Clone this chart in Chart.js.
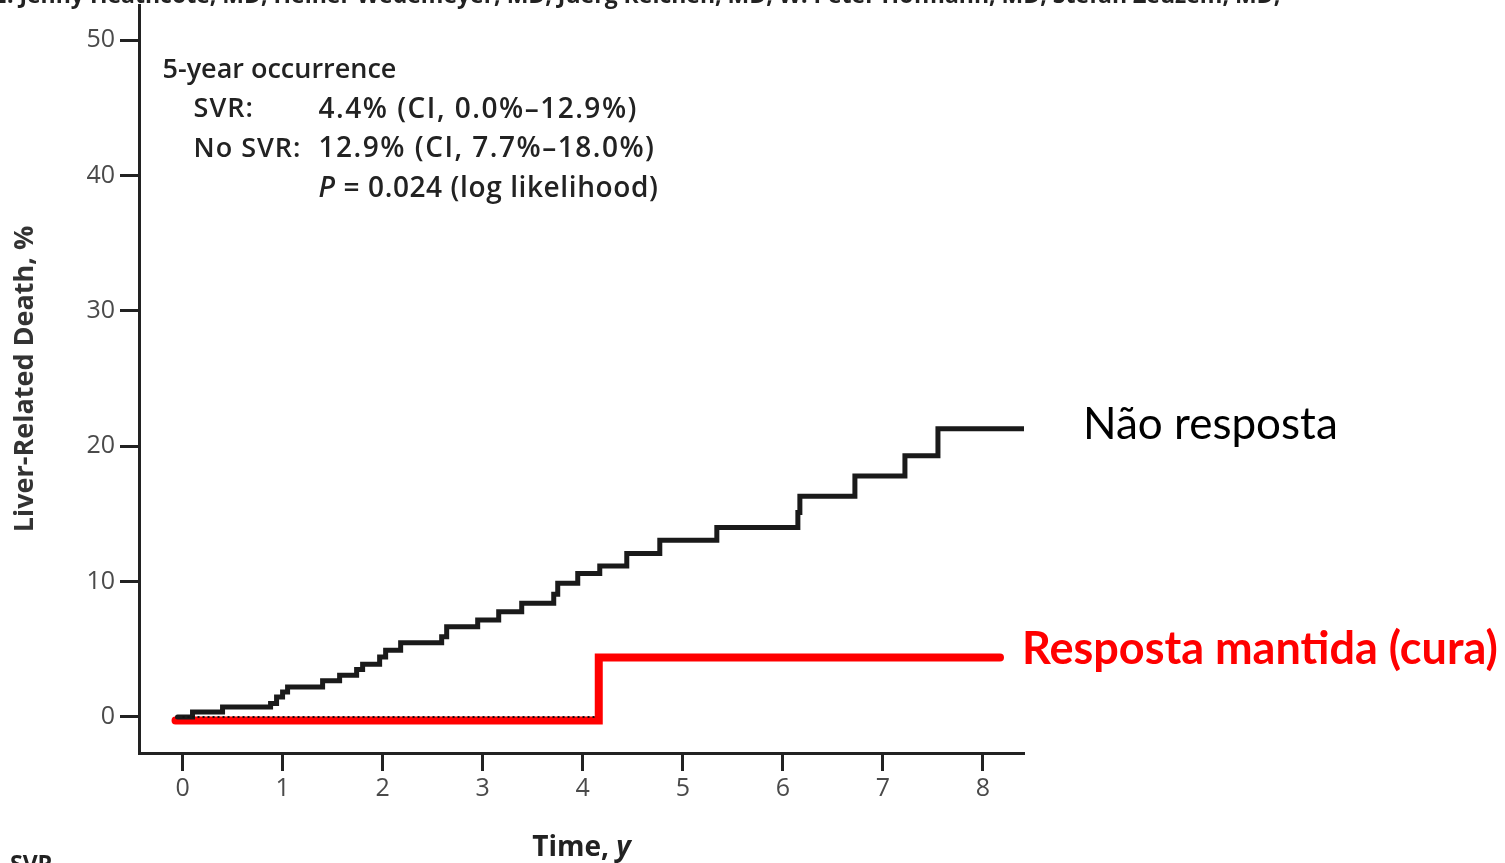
<!DOCTYPE html>
<html lang="pt">

<head>
    <meta charset="UTF-8">
    <title>Liver-related death</title>
    <style>
        body { margin: 0; background: #fff; }
    </style>
</head>

<body>
    <canvas id="kmChart" width="1505" height="863"></canvas>

    <script src="https://cdn.jsdelivr.net/npm/chart.js@4.4.1/dist/chart.umd.min.js"></script>
    <script>
        // values
        const xTicks = [0, 1, 2, 3, 4, 5, 6, 7, 8];
        const yTicks = [0, 10, 20, 30, 40, 50];

        const noSvrTime = [-0.05, 0.10, 0.40, 0.88, 0.94, 1.00, 1.05, 1.40, 1.57, 1.74, 1.80, 1.97, 2.03, 2.18, 2.59, 2.64, 2.95, 3.16, 3.39, 3.71, 3.75, 3.95, 4.17, 4.44, 4.77, 5.34, 6.15, 6.17, 6.72, 7.22, 7.55, 8.41];
        const noSvrPct = [0, 0.37, 0.74, 0.99, 1.48, 1.85, 2.22, 2.67, 3.09, 3.50, 3.90, 4.44, 4.94, 5.48, 5.93, 6.67, 7.16, 7.78, 8.40, 9.07, 9.88, 10.6, 11.16, 12.07, 13.05, 14.0, 15.1, 16.3, 17.8, 19.3, 21.3, 21.3];

        const svrTime = [-0.07, 4.16, 8.17];
        const svrPct = [-0.25, 4.4, 4.4];

        const svrDotTime = [0.0, 4.14];
        const svrDotPct = [0, 0];

        const seriesLabels = ['Não resposta', 'Resposta mantida (cura)'];

        const boxLines = [
            ['5-year occurrence', null],
            ['SVR:', '4.4% (CI, 0.0%–12.9%)'],
            ['No SVR:', '12.9% (CI, 7.7%–18.0%)'],
            [null, ' = 0.024 (log likelihood)']
        ];

        const FONT = '"Open Sans", sans-serif';

        function pts(xs, ys) {
            return xs.map((x, i) => ({ x: x, y: ys[i] }));
        }

        const textPlugin = {
            id: 'textPlugin',
            afterDraw(chart) {
                const ctx = chart.ctx;
                const xs = chart.scales.x, ys = chart.scales.y;
                const area = chart.chartArea;
                ctx.save();

                // clipped header line and footer from the source slide
                ctx.fillStyle = '#222';
                ctx.font = 'bold 23px ' + FONT;
                ctx.textBaseline = 'alphabetic';
                ctx.textAlign = 'left';
                ctx.fillText('E. Jenny Heathcote, MD; Heiner Wedemeyer, MD; Juerg Reichen, MD; W. Peter Hofmann, MD; Stefan Zeuzem, MD;', -6, 3);
                ctx.textBaseline = 'top';
                ctx.fillText('SVR', 10, 854);

                // occurrence box
                const boxFont = '600 27px ' + FONT;
                const valFont = '600 28px ' + FONT;
                ctx.fillStyle = '#222';
                ctx.textBaseline = 'middle';
                const c1 = xs.getPixelForValue(-0.2);
                const c2 = xs.getPixelForValue(0.11);
                const c3 = xs.getPixelForValue(1.36);
                boxLines.forEach((ln, i) => {
                    const y = ys.getPixelForValue(47.8 - i * 2.93);
                    ctx.font = boxFont;
                    if (i === 0) { ctx.letterSpacing = '0px'; ctx.fillText(ln[0], c1, y); return; }
                    ctx.letterSpacing = '1px';
                    if (ln[0]) ctx.fillText(ln[0], c2, y);
                    if (i === 3) {
                        ctx.letterSpacing = '0.6px';
                        ctx.font = 'italic ' + valFont;
                        ctx.fillText('P', c3, y);
                        const w = ctx.measureText('P').width;
                        ctx.font = valFont;
                        ctx.fillText(ln[1], c3 + w, y);
                    } else {
                        ctx.letterSpacing = '1.5px';
                        ctx.font = valFont;
                        ctx.fillText(ln[1], c3, y);
                    }
                });
                ctx.letterSpacing = '0px';

                // x axis title with italic y
                ctx.fillStyle = '#222';
                const t1 = 'Time, ';
                ctx.font = 'bold 28px ' + FONT;
                const w1 = ctx.measureText(t1).width;
                ctx.font = 'bold italic 28px ' + FONT;
                const w2 = ctx.measureText('y').width;
                const cx = (area.left + area.right) / 2;
                const ty = xs.bottom - 15;
                ctx.textAlign = 'left';
                ctx.font = 'bold 28px ' + FONT;
                ctx.fillText(t1, cx - (w1 + w2) / 2, ty);
                ctx.font = 'bold italic 28px ' + FONT;
                ctx.fillText('y', cx - (w1 + w2) / 2 + w1, ty);

                // series labels on the right
                ctx.textAlign = 'left';
                ctx.fillStyle = '#000';
                ctx.font = '44px Lato, sans-serif';
                ctx.fillText(seriesLabels[0], xs.getPixelForValue(9.0), ys.getPixelForValue(21.6));
                ctx.fillStyle = '#ff0000';
                ctx.font = 'bold 45px Lato, sans-serif';
                ctx.fillText(seriesLabels[1], xs.getPixelForValue(8.39), ys.getPixelForValue(5.0));

                ctx.restore();
            }
        };

        const ctx = document.getElementById('kmChart');
        const chart = new Chart(ctx, {
            type: 'line',
            data: {
                datasets: [
                    {
                        label: 'SVR censor',
                        data: pts(svrDotTime, svrDotPct),
                        borderColor: '#111',
                        borderWidth: 2,
                        borderDash: [2, 3],
                        pointRadius: 0
                    },
                    {
                        label: seriesLabels[0],
                        data: pts(noSvrTime, noSvrPct),
                        stepped: 'before',
                        borderColor: '#1a1a1a',
                        borderWidth: 5,
                        borderCapStyle: 'round',
                        pointRadius: 0
                    },
                    {
                        label: seriesLabels[1],
                        data: pts(svrTime, svrPct),
                        stepped: 'before',
                        borderColor: '#ff0000',
                        borderWidth: 8,
                        borderCapStyle: 'round',
                        borderJoinStyle: 'miter',
                        pointRadius: 0
                    }
                ]
            },
            options: {
                responsive: false,
                animation: false,
                layout: { padding: { top: 5, right: 481, bottom: 0, left: 0 } },
                plugins: {
                    legend: { display: false },
                    tooltip: { enabled: false }
                },
                scales: {
                    x: {
                        type: 'linear',
                        min: -0.435,
                        max: 8.41,
                        afterBuildTicks: s => { s.ticks = xTicks.map(v => ({ value: v })); },
                        afterFit: s => { s.height = 110; s.paddingLeft = 0; s.paddingRight = 0; },
                        grid: { drawOnChartArea: false, tickLength: 18, tickColor: '#222', tickWidth: 3 },
                        border: { color: '#222', width: 3 },
                        ticks: { color: '#4a4a4a', font: { family: FONT, size: 25 }, padding: 3, autoSkip: false, maxRotation: 0 }
                    },
                    y: {
                        min: -2.66,
                        max: 52.6,
                        afterBuildTicks: s => { s.ticks = yTicks.map(v => ({ value: v })); },
                        afterFit: s => { s.width = 139; s.paddingTop = 0; s.paddingBottom = 0; },
                        grid: { drawOnChartArea: false, tickLength: 19, tickColor: '#222', tickWidth: 3 },
                        border: { color: '#222', width: 3 },
                        ticks: { color: '#4a4a4a', font: { family: FONT, size: 25 }, padding: 5, autoSkip: false },
                        title: {
                            display: true,
                            text: 'Liver-Related Death, %',
                            color: '#333',
                            font: { family: FONT, size: 27, weight: 'bold' },
                            padding: { top: 9 }
                        }
                    }
                }
            },
            plugins: [textPlugin]
        });
    </script>

</body>

</html>
